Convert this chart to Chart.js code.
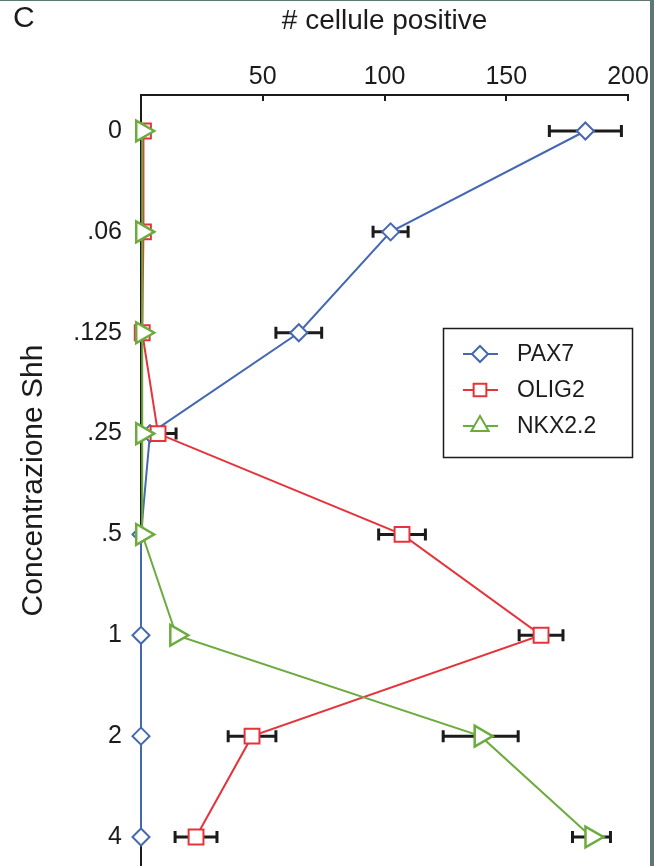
<!DOCTYPE html>
<html>
<head>
<meta charset="utf-8">
<title>Concentrazione Shh</title>
<script src="https://cdn.jsdelivr.net/npm/chart.js@4.4.0/dist/chart.umd.min.js"></script>
<style>
  html, body { margin: 0; padding: 0; background: #fff; }
  #wrap {
    width: 650px;
    height: 865px;
    border-top: 1px solid #5e7676;
    border-right: 4px solid #5e7676;
  }
  canvas { display: block; }
</style>
</head>
<body>
<div id="wrap"><canvas id="shhChart" width="650" height="865"></canvas></div>
<script>
// Shh concentration on the vertical axis, positive cell counts on the top axis
const concLabels = ["0", ".06", ".125", ".25", ".5", "1", "2", "4"];
const xTickValues = [50, 100, 150, 200];

const pax7 = [182.5, 102.5, 64.8, 3.7, 0, 0, 0, 0];
const pax7Err = [14.8, 7.2, 9.4, 0, 0, 0, 0, 0];

const olig2 = [1, 1, 0.5, 7, 107.2, 164.3, 45.6, 22.6];
const olig2Err = [0, 0, 0, 7.4, 9.6, 9, 9.8, 8.6];

const nkx22 = [0.5, 0.5, 0.5, 0.5, 0.5, 14.5, 139.5, 185];
const nkx22Err = [0, 0, 0, 0, 0, 0, 15.4, 7.8];

const BLUE = "#4568b2";
const RED = "#e5333b";
const GREEN = "#6cab3d";
const INK = "#1b1b1b";
const FONT = "'Liberation Sans', Arial, Helvetica, sans-serif";

Chart.defaults.font.family = FONT;
Chart.defaults.color = INK;

function toPoints(values) {
  return values.map((v, i) => ({ x: v, y: i }));
}

// keep the plot area exactly where the figure has it
function pinScale(s, size) {
  if (s.isHorizontal()) s.height = size;
  else s.width = size;
  s.paddingLeft = 0;
  s.paddingRight = 0;
  s.paddingTop = 0;
  s.paddingBottom = 0;
}

/**
 * Horizontal error bars, drawn under the markers
 */
const errorBars = {
  id: "errorBars",
  beforeDatasetsDraw(chart) {
    const { ctx } = chart;
    const xs = chart.scales.x;
    const ys = chart.scales.y;
    ctx.save();
    ctx.strokeStyle = INK;
    ctx.lineWidth = 3;
    chart.data.datasets.forEach((ds) => {
      const errs = ds.errors || [];
      ds.data.forEach((p, j) => {
        const e = errs[j];
        if (!e) return;
        const x0 = xs.getPixelForValue(p.x - e);
        const x1 = xs.getPixelForValue(p.x + e);
        const y = ys.getPixelForValue(p.y);
        ctx.beginPath();
        ctx.moveTo(x0, y);
        ctx.lineTo(x1, y);
        ctx.moveTo(x0, y - 6);
        ctx.lineTo(x0, y + 6);
        ctx.moveTo(x1, y - 6);
        ctx.lineTo(x1, y + 6);
        ctx.stroke();
      });
    });
    ctx.restore();
  },
};

/**
 * Boxed legend inside the plot + panel letter
 */
const boxLegend = {
  id: "boxLegend",
  afterDraw(chart) {
    const { ctx } = chart;
    ctx.save();

    // panel letter
    ctx.fillStyle = INK;
    ctx.font = "30px " + FONT;
    ctx.textBaseline = "middle";
    ctx.textAlign = "left";
    ctx.fillText("C", 13, 18);

    // box
    ctx.strokeStyle = INK;
    ctx.lineWidth = 1.5;
    ctx.strokeRect(443.5, 327.5, 189, 129);

    const rows = [
      { ds: chart.data.datasets[0], radius: 8, y: 353 },
      { ds: chart.data.datasets[1], radius: 9, y: 389 },
      { ds: chart.data.datasets[2], radius: 10, y: 425 },
    ];
    ctx.font = "23px " + FONT;
    rows.forEach((r) => {
      ctx.strokeStyle = r.ds.borderColor;
      ctx.lineWidth = 2;
      ctx.beginPath();
      ctx.moveTo(463, r.y);
      ctx.lineTo(498, r.y);
      ctx.stroke();
      ctx.fillStyle = "#fff";
      Chart.helpers.drawPoint(
        ctx,
        { pointStyle: r.ds.pointStyle, rotation: 0, radius: r.radius, borderWidth: 2 },
        480,
        r.y,
      );
      ctx.fillStyle = INK;
      ctx.fillText(r.ds.label, 517, r.y + 1);
    });
    ctx.restore();
  },
};

new Chart(document.getElementById("shhChart"), {
  type: "line",
  data: {
    datasets: [
      {
        label: "PAX7",
        data: toPoints(pax7),
        errors: pax7Err,
        borderColor: BLUE,
        backgroundColor: "#fff",
        pointBackgroundColor: "#fff",
        pointStyle: "rectRot",
        pointRadius: 8.5,
        pointBorderWidth: 2,
        borderWidth: 2,
        tension: 0,
        clip: false,
        order: 2,
      },
      {
        label: "OLIG2",
        data: toPoints(olig2),
        errors: olig2Err,
        borderColor: RED,
        backgroundColor: "#fff",
        pointBackgroundColor: "#fff",
        pointStyle: "rect",
        pointRadius: 10.5,
        pointBorderWidth: 2,
        borderWidth: 2,
        tension: 0,
        clip: false,
        order: 1,
      },
      {
        label: "NKX2.2",
        data: toPoints(nkx22),
        errors: nkx22Err,
        borderColor: GREEN,
        backgroundColor: "#fff",
        pointBackgroundColor: "#fff",
        pointStyle: "triangle",
        pointRotation: 90,
        pointRadius: 12,
        pointBorderWidth: 2.5,
        borderWidth: 2,
        tension: 0,
        clip: false,
        order: 0,
      },
    ],
  },
  options: {
    responsive: false,
    animation: false,
    events: [],
    layout: { autoPadding: false, padding: { left: 0, top: 0, right: 22, bottom: 0 } },
    plugins: {
      legend: { display: false },
      tooltip: { enabled: false },
    },
    scales: {
      x: {
        type: "linear",
        position: "top",
        min: 0,
        max: 200,
        afterBuildTicks: (s) => {
          s.ticks = xTickValues.map((v) => ({ value: v }));
        },
        afterFit: (s) => pinScale(s, 94),
        ticks: {
          font: { size: 25 },
          color: INK,
          padding: 9,
          maxRotation: 0,
          callback: (v) => String(v),
        },
        grid: {
          display: true,
          drawOnChartArea: false,
          drawTicks: true,
          tickLength: -6,
          color: INK,
          lineWidth: 2,
        },
        border: { display: true, color: INK, width: 2 },
        title: {
          display: true,
          text: "# cellule positive",
          font: { size: 28 },
          color: INK,
          padding: { top: 3, bottom: 0 },
        },
      },
      y: {
        type: "linear",
        reverse: true,
        min: -0.357,
        max: 7.2875,
        afterBuildTicks: (s) => {
          s.ticks = concLabels.map((_, i) => ({ value: i }));
        },
        afterFit: (s) => pinScale(s, 141),
        ticks: {
          font: { size: 25 },
          color: INK,
          padding: 19,
          callback: (v) => concLabels[v],
        },
        grid: { display: false, drawTicks: false },
        border: { display: true, color: INK, width: 2 },
        title: {
          display: true,
          text: "Concentrazione Shh",
          font: { size: 30 },
          color: INK,
          padding: { top: 16, bottom: 0 },
        },
      },
    },
  },
  plugins: [errorBars, boxLegend],
});
</script>
</body>
</html>
